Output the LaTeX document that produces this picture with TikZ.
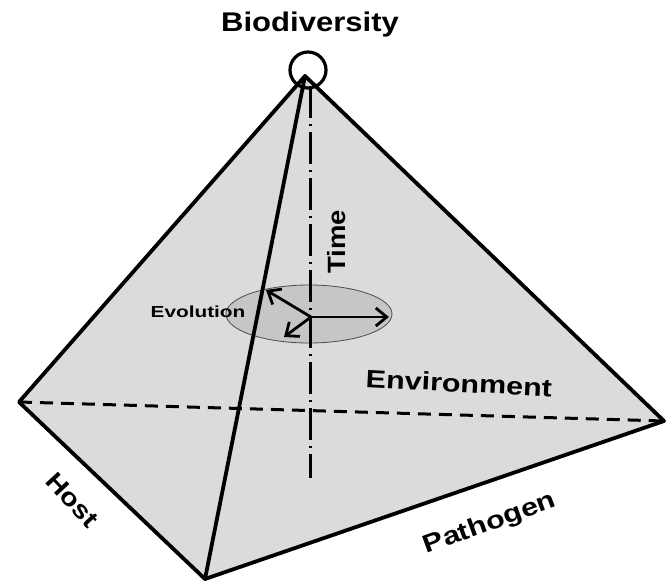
\documentclass[tikz,border=0pt]{standalone}
\usepackage{fontspec}
\setmainfont{Liberation Sans}
\usetikzlibrary{arrows.meta,shapes.geometric}
\begin{document}
\begin{tikzpicture}[x=1pt,y=-1pt,
  edge/.style={line width=3.8pt, line join=round, line cap=round},
  hidden/.style={line width=3pt, dash pattern=on 13pt off 8pt},
  axisline/.style={line width=3pt, dash pattern=on 32pt off 6pt on 2pt off 6pt},
  lbl/.style={inner sep=0pt, font=\bfseries\fontsize{25}{25}\selectfont},
  evo/.style={line width=2.8pt, -{Straight Barb[length=11pt,width=18pt]}}
]
\useasboundingbox (0,0) rectangle (670,582);
\coordinate (A) at (305,76);
\coordinate (L) at (19,402);
\coordinate (F) at (205,579);
\coordinate (R) at (664,421);
\coordinate (T) at (310,86);
\coordinate (Tb) at (310,478);
\coordinate (O) at (311,317);
\coordinate (E1) at (389,317);
\coordinate (E2) at (266,290);
\coordinate (E3) at (284,337);
\fill[gray!28] (A) -- (L) -- (F) -- (R) -- cycle;
\node[ellipse, draw=black!70, line width=0.8pt, fill=gray!45, minimum width=166pt, minimum height=58pt, inner sep=0pt] (ell) at (309,314) {};
\draw[hidden] (L) -- (R);
\draw[axisline] (T) -- (Tb);
\draw[edge] (A) -- (L) -- (F) -- (R) -- cycle;
\draw[edge] (A) -- (F);
\node[circle, draw, line width=3.2pt, minimum size=36pt, inner sep=0pt] (top) at (308,70) {};
\draw[evo] (O) -- (E1);
\draw[evo] (O) -- (E2);
\draw[evo] (O) -- (E3);
\node[lbl, font=\bfseries\fontsize{27}{27}\selectfont] (bio) at (310,25) {\scalebox{1.15}[1]{Biodiversity}};
\node[lbl, rotate=90] (time) at (337,242) {\scalebox{1.1}[1]{Time}};
\node[lbl, rotate=-3] (env) at (459,383) {\scalebox{1.22}[1]{Environment}};
\node[lbl, rotate=-47] (host) at (72,500) {\scalebox{1.15}[1]{Host}};
\node[lbl, rotate=20] (path) at (490,524) {\scalebox{1.22}[1]{Pathogen}};
\node[lbl, font=\bfseries\fontsize{16}{16}\selectfont] (evol) at (198,312) {\scalebox{1.3}[1]{Evolution}};
\end{tikzpicture}
\end{document}
